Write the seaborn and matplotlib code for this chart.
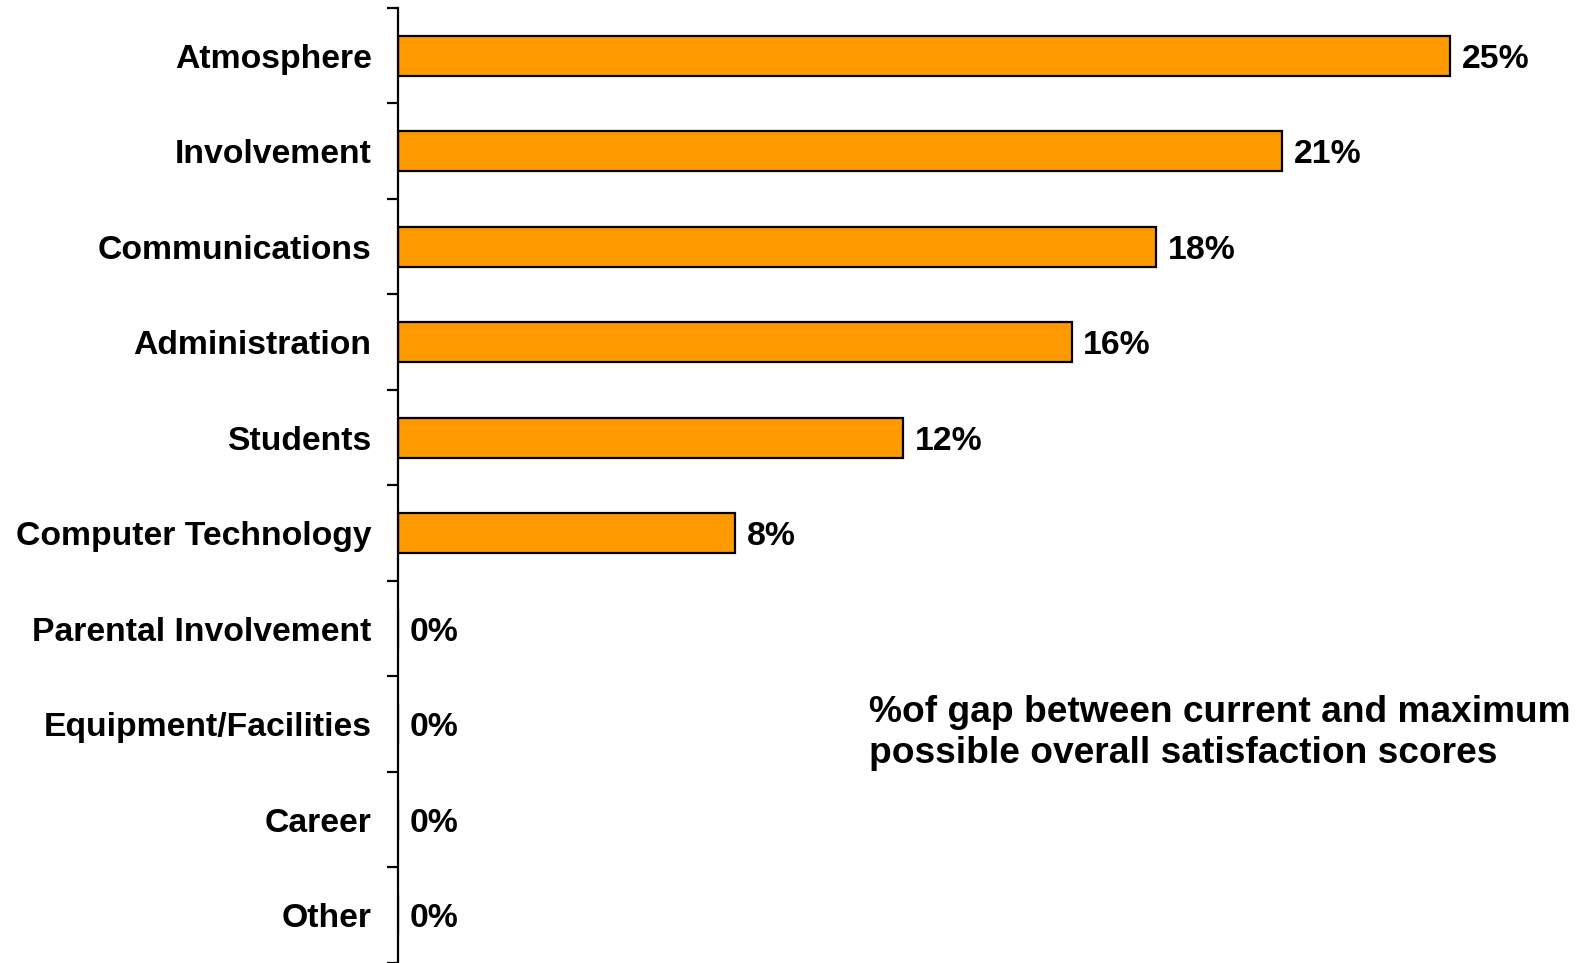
import matplotlib
matplotlib.use("Agg")
import matplotlib.pyplot as plt
import seaborn as sns
import pandas as pd
import numpy as np

categories = ["Atmosphere", "Involvement", "Communications", "Administration",
              "Students", "Computer Technology", "Parental Involvement",
              "Equipment/Facilities", "Career", "Other"]
gap_pct = [25, 21, 18, 16, 12, 8, 0, 0, 0, 0]
value_labels = ["25%", "21%", "18%", "16%", "12%", "8%", "0%", "0%", "0%", "0%"]
note_text = "%of gap between current and maximum\npossible overall satisfaction scores"

sns.set_theme(style="white")
plt.rcParams["font.family"] = ["Liberation Sans", "DejaVu Sans"]
plt.rcParams["font.weight"] = "bold"
plt.rcParams["text.color"] = "black"
plt.rcParams["ytick.color"] = "black"
plt.rcParams["ytick.labelcolor"] = "black"

FS = 24.3
NOTE_FS = 26.7

df = pd.DataFrame({"category": categories, "gap": gap_pct})

fig = plt.figure(figsize=(15.81, 9.63), dpi=100)
ax = fig.add_axes([0.2517, 0.0, 0.7483, 0.9917])

sns.barplot(data=df, y="category", x="gap", orient="h", color="#FF9900",
            saturation=1, edgecolor="black", linewidth=1.6, width=0.42, ax=ax)

ax.set_xlim(0, 28.1)
ax.set_ylim(len(categories) - 0.5, -0.5)

for spine in ["top", "right", "bottom"]:
    ax.spines[spine].set_visible(False)
ax.spines["left"].set_color("black")
ax.spines["left"].set_linewidth(1.6)

ax.set_xticks([])
ax.set_xlabel("")
ax.set_ylabel("")
ax.tick_params(axis="y", which="major", length=0, pad=19, labelsize=FS,
               labelcolor="black")
for lbl in ax.get_yticklabels():
    lbl.set_fontweight("bold")
    lbl.set_color("black")
ax.set_yticks(np.arange(len(categories) + 1) - 0.5, minor=True)
ax.tick_params(axis="y", which="minor", left=True, length=8, width=1.6,
               color="black", direction="out")

for i, (v, t) in enumerate(zip(gap_pct, value_labels)):
    ax.annotate(t, xy=(v, i), xytext=(8.5, 0), textcoords="offset points",
                ha="left", va="center_baseline", fontsize=FS,
                fontweight="bold", color="black")

ax.text(869 / 1581, 1 - 733 / 963, note_text, transform=fig.transFigure,
        ha="left", va="center", fontsize=NOTE_FS, fontweight="bold",
        linespacing=1.2, color="black")

fig.savefig("out.png", dpi=100)
